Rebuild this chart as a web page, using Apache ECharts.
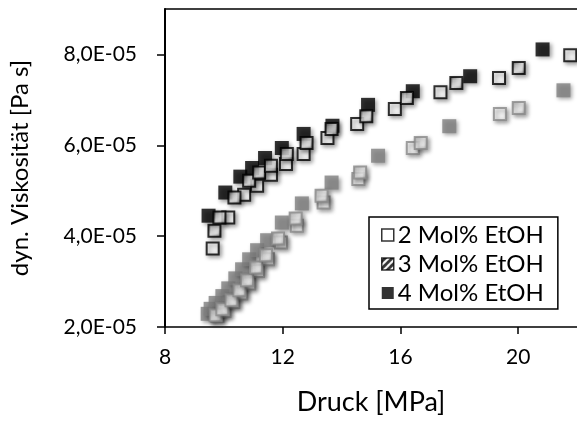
<!DOCTYPE html>
<html><head><meta charset="utf-8">
<script src="https://cdn.jsdelivr.net/npm/echarts@6/dist/echarts.min.js"></script>
<style>html,body{margin:0;padding:0;background:#fff}#c{width:577px;height:421px}</style>
</head><body><div id="c"></div>
<script>
// values in units of 1E-05 Pa s, pressure in MPa
const xTicks = [8, 12, 16, 20];
const yTicks = ['2,0E-05', '4,0E-05', '6,0E-05', '8,0E-05'];
const legendNames = ['2 Mol% EtOH', '3 Mol% EtOH', '4 Mol% EtOH'];

const dark2_x = [9.62, 10.15, 10.69, 11.13, 11.60, 12.11, 12.71, 13.52, 14.53, 15.81, 17.36, 19.35, 21.77];
const dark2_y = [3.73, 4.41, 4.91, 5.11, 5.35, 5.59, 5.81, 6.16, 6.47, 6.80, 7.17, 7.48, 7.98];
const dark3_x = [9.68, 9.85, 10.36, 10.86, 11.20, 11.60, 12.14, 12.81, 13.66, 14.84, 16.22, 17.90, 20.02];
const dark3_y = [4.12, 4.41, 4.85, 5.22, 5.40, 5.55, 5.81, 6.05, 6.36, 6.64, 7.04, 7.37, 7.70];
const dark4_x = [9.48, 10.05, 10.56, 10.96, 11.40, 11.97, 12.71, 13.69, 14.90, 16.42, 18.37, 20.83];
const dark4_y = [4.45, 4.96, 5.31, 5.50, 5.72, 5.94, 6.25, 6.43, 6.89, 7.19, 7.52, 8.11];

const grey2_x = [9.78, 10.02, 10.32, 10.59, 10.86, 11.16, 11.50, 11.94, 12.48, 13.39, 14.57, 16.42, 19.38];
const grey2_y = [2.24, 2.35, 2.55, 2.74, 2.96, 3.23, 3.49, 3.86, 4.23, 4.74, 5.26, 5.94, 6.69];
const grey3_x = [9.72, 9.95, 10.26, 10.53, 10.79, 11.10, 11.43, 11.84, 12.44, 13.32, 14.63, 16.69, 20.02];
const grey3_y = [2.26, 2.39, 2.59, 2.81, 3.03, 3.31, 3.58, 3.95, 4.39, 4.89, 5.40, 6.05, 6.82];
const grey4_x = [9.45, 9.55, 9.72, 9.95, 10.15, 10.39, 10.62, 10.86, 11.13, 11.47, 11.97, 12.65, 13.66, 15.24, 17.66, 21.54];
const grey4_y = [2.29, 2.40, 2.53, 2.68, 2.85, 3.07, 3.27, 3.49, 3.69, 3.91, 4.30, 4.72, 5.18, 5.77, 6.42, 7.21];

function zip(a, b) { return a.map((v, i) => [v, b[i]]); }
function hatch(bg) {
  const s = 7;
  const c = document.createElement('canvas');
  c.width = s; c.height = s;
  const g = c.getContext('2d');
  g.fillStyle = bg; g.fillRect(0, 0, s, s);
  g.strokeStyle = '#fff'; g.lineWidth = 2;
  g.beginPath();
  g.moveTo(-1, s + 1); g.lineTo(s + 1, -1);
  g.moveTo(-s - 1, s + 1); g.lineTo(1, -1);
  g.moveTo(-1, 2 * s + 1); g.lineTo(2 * s + 1, -1);
  g.stroke();
  return { image: c, repeat: 'repeat' };
}
const FONT = 'Lato';
const shadow = { shadowBlur: 4, shadowOffsetX: 2, shadowOffsetY: 2, shadowColor: 'rgba(0,0,0,0.45)' };
const GREY = '#7f7f7f';
const darkHatch = hatch('#000');

function sc(name, x, y, style, size) {
  return { type: 'scatter', name: name, data: zip(x, y), symbol: 'rect', symbolSize: size,
    itemStyle: Object.assign({}, shadow, style), emphasis: { disabled: true }, z: 2 };
}

const chart = echarts.init(document.getElementById('c'), null, { renderer: 'canvas' });
chart.setOption({
  animation: false,
  backgroundColor: '#fff',
  grid: { left: 165, top: 9, right: -4, bottom: 94, containLabel: false },
  legend: {
    data: [
      { name: legendNames[0], itemStyle: { color: '#fff', borderColor: '#000', borderWidth: 1.5 } },
      { name: legendNames[1], itemStyle: { color: darkHatch, borderColor: '#000', borderWidth: 1.5 } },
      { name: legendNames[2], itemStyle: { color: '#000' } }
    ],
    orient: 'vertical', left: 369, top: 217, width: 200, height: 99,
    borderColor: '#000', borderWidth: 1.5, padding: [6, 14, 4, 12],
    itemWidth: 12, itemHeight: 12, itemGap: 5,
    itemStyle: { shadowBlur: 0, shadowOffsetX: 0, shadowOffsetY: 0 },
    textStyle: { fontFamily: FONT, fontSize: 24, color: '#000', padding: [0, 0, 0, -1] },
    backgroundColor: '#fff'
  },
  xAxis: [{
    type: 'value', min: 8, max: 22, interval: 4,
    name: 'Druck [MPa]', nameLocation: 'middle', nameGap: 62,
    nameTextStyle: { fontFamily: FONT, fontSize: 27, color: '#000' },
    axisLine: { show: true, lineStyle: { color: '#000', width: 1.5 } },
    axisTick: { show: true, length: 7, lineStyle: { color: '#000', width: 1.5 } },
    axisLabel: { fontFamily: FONT, fontSize: 21, color: '#000', margin: 20, showMaxLabel: false,
      formatter: v => xTicks.indexOf(v) >= 0 ? String(v) : '' },
    splitLine: { show: false }
  }, {
    type: 'value', min: 8, max: 22, position: 'top',
    axisLine: { show: true, onZero: false, lineStyle: { color: '#000', width: 1.5 } },
    axisTick: { show: false }, axisLabel: { show: false }, splitLine: { show: false }
  }],
  yAxis: {
    type: 'value', min: 2, max: 9, interval: 2,
    name: 'dyn. Viskosität [Pa s]', nameLocation: 'middle', nameGap: 133,
    nameTextStyle: { fontFamily: FONT, fontSize: 24, color: '#000' },
    axisLine: { show: true, lineStyle: { color: '#000', width: 2 } },
    axisTick: { show: true, length: 8, lineStyle: { color: '#000', width: 1.5 } },
    axisLabel: { fontFamily: FONT, fontSize: 21, color: '#000', margin: 28, showMaxLabel: false,
      formatter: v => { const i = [2, 4, 6, 8].indexOf(v); return i >= 0 ? yTicks[i] : ''; } },
    splitLine: { show: false }
  },
  series: [
    sc('grey4', grey4_x, grey4_y, { color: GREY }, 14),
    sc('grey2', grey2_x, grey2_y, { color: '#fff', borderColor: '#8a8a8a', borderWidth: 2 }, 12),
    sc('grey3', grey3_x, grey3_y, { color: hatch('#8a8a8a'), borderColor: '#8a8a8a', borderWidth: 2 }, 12),
    sc(legendNames[2], dark4_x, dark4_y, { color: '#000' }, 14),
    sc(legendNames[0], dark2_x, dark2_y, { color: '#fff', borderColor: '#000', borderWidth: 2 }, 12),
    sc(legendNames[1], dark3_x, dark3_y, { color: darkHatch, borderColor: '#000', borderWidth: 2 }, 12)
  ]
});
</script></body></html>
